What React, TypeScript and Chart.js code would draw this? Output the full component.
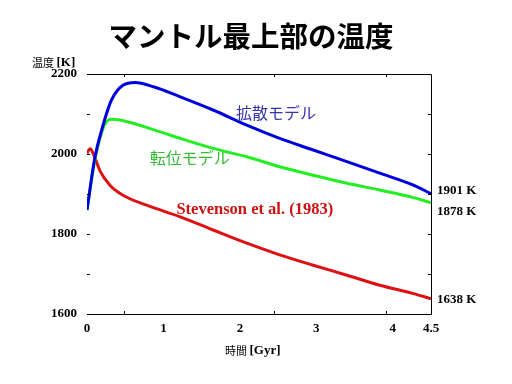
import { useEffect, useRef } from "react";
import { Chart, registerables } from "chart.js";

Chart.register(...registerables);

// ---- text ----
const TITLE = "マントル最上部の温度";
const Y_TITLE_JA = "温度";
const Y_TITLE_UNIT = "[K]";
const X_TITLE_JA = "時間";
const X_TITLE_UNIT = "[Gyr]";
const SERIES_NAMES = ["拡散モデル", "転位モデル", "Stevenson et al. (1983)"];

// ---- ticks ----
const X_TICKS = [0, 1, 2, 3, 4, 4.5];
const Y_LABELED = [1600, 1800, 2000, 2200];
const Y_MINOR = [1700, 1800, 1900, 2000, 2100];
const X_MINOR = [0.48, 2.45, 3.91];

// ---- data (time in Gyr, temperature in K) ----
const diffusionX = [0, 0.1, 0.21, 0.32, 0.47, 0.63, 0.87, 1.22, 1.65, 2.09, 2.52, 2.96, 3.4, 3.83, 4.27, 4.5];
const diffusionY = [1860, 1988, 2072, 2135, 2172, 2179, 2168, 2143, 2110, 2072, 2039, 2010, 1981, 1952, 1922, 1901];

const dislocationX = [0, 0.1, 0.17, 0.235, 0.32, 0.43, 0.95, 1.22, 1.65, 2.09, 2.52, 2.96, 3.4, 3.83, 4.27, 4.5];
const dislocationY = [1860, 1982, 2040, 2075, 2087, 2085, 2056, 2039, 2014, 1993, 1968, 1947, 1927, 1910, 1891, 1878];

const stevensonX = [0, 0.04, 0.09, 0.17, 0.3, 0.47, 0.78, 1.22, 1.65, 2.09, 2.52, 2.96, 3.4, 3.83, 4.27, 4.5];
const stevensonY = [2002, 2013, 1997, 1958, 1922, 1897, 1872, 1843, 1810, 1777, 1748, 1722, 1697, 1672, 1651, 1638];

const COLORS = ["#0000dd", "#22ee22", "#dd1111"];
const TEXT_COLORS = ["#3333aa", "#33bb33", "#cc1111"];

const SANS = '"Noto Sans CJK JP", "Noto Sans", sans-serif';
const SERIF = '"Liberation Serif", "DejaVu Serif", serif';

const toPoints = (xs: number[], ys: number[]) => xs.map((x, i) => ({ x, y: ys[i] }));

function drawParts(ctx: CanvasRenderingContext2D, parts: { text: string; font: string }[], x: number, y: number) {
  let cx = x;
  ctx.textBaseline = "middle";
  ctx.textAlign = "left";
  for (const p of parts) {
    ctx.font = p.font;
    ctx.fillText(p.text, cx, y);
    cx += ctx.measureText(p.text).width;
  }
}

const overlayPlugin = {
  id: "overlay",
  afterDraw(chart: any) {
    const ctx: CanvasRenderingContext2D = chart.ctx;
    const a = chart.chartArea;
    const xs = chart.scales.x;
    const ys = chart.scales.y;
    ctx.save();

    // frame: top, right, bottom (no left line)
    ctx.strokeStyle = "#000";
    ctx.lineWidth = 1;
    ctx.beginPath();
    ctx.moveTo(a.left, Math.round(a.top) + 0.5);
    ctx.lineTo(Math.round(a.right) + 0.5, Math.round(a.top) + 0.5);
    ctx.lineTo(Math.round(a.right) + 0.5, Math.round(a.bottom) + 0.5);
    ctx.lineTo(a.left, Math.round(a.bottom) + 0.5);
    ctx.stroke();

    // inward minor ticks
    ctx.beginPath();
    for (const v of Y_MINOR) {
      const py = Math.round(ys.getPixelForValue(v)) + 0.5;
      ctx.moveTo(a.left, py);
      ctx.lineTo(a.left + 3, py);
      ctx.moveTo(a.right, py);
      ctx.lineTo(a.right - 3, py);
    }
    for (const v of X_MINOR) {
      const px = Math.round(xs.getPixelForValue(v)) + 0.5;
      ctx.moveTo(px, a.top);
      ctx.lineTo(px, a.top + 3);
      ctx.moveTo(px, a.bottom);
      ctx.lineTo(px, a.bottom - 3);
    }
    ctx.stroke();

    // title
    ctx.fillStyle = "#000";
    ctx.font = `bold 28.5px ${SANS}`;
    ctx.textAlign = "center";
    ctx.textBaseline = "middle";
    ctx.fillText(TITLE, 251, 36);

    // axis titles
    drawParts(ctx, [
      { text: Y_TITLE_JA + " ", font: `11px ${SANS}` },
      { text: Y_TITLE_UNIT, font: `bold 13px ${SERIF}` },
    ], 32, 63);
    drawParts(ctx, [
      { text: X_TITLE_JA + " ", font: `11px ${SANS}` },
      { text: X_TITLE_UNIT, font: `bold 13px ${SERIF}` },
    ], 225, 351);

    // series annotations (anchored at data coordinates)
    const anchors = [
      { x: 1.95, y: 2102, font: `16px ${SANS}` },
      { x: 0.82, y: 1990, font: `16px ${SANS}` },
      { x: 1.17, y: 1860, font: `bold 16.5px ${SERIF}` },
    ];
    anchors.forEach((an, i) => {
      ctx.fillStyle = TEXT_COLORS[i];
      ctx.font = an.font;
      ctx.textAlign = "left";
      ctx.textBaseline = "middle";
      ctx.fillText(SERIES_NAMES[i], xs.getPixelForValue(an.x), ys.getPixelForValue(an.y));
    });

    // end-value labels at right
    const ends = [diffusionY, dislocationY, stevensonY].map((arr) => arr[arr.length - 1]);
    const shifts = [-3, 9, 1];
    ctx.fillStyle = "#000";
    ctx.font = `bold 13px ${SERIF}`;
    ctx.textAlign = "left";
    ctx.textBaseline = "middle";
    ends.forEach((v, i) => {
      ctx.fillText(`${v} K`, a.right + 6, ys.getPixelForValue(v) + shifts[i]);
    });

    ctx.restore();
  },
};

export default function App() {
  const ref = useRef<HTMLCanvasElement | null>(null);

  useEffect(() => {
    document.body.style.margin = "0";
    const canvas = ref.current;
    if (!canvas) return;
    const chart = new Chart(canvas, {
      type: "line",
      data: {
        datasets: [
          { label: SERIES_NAMES[0], data: toPoints(diffusionX, diffusionY), borderColor: COLORS[0] },
          { label: SERIES_NAMES[1], data: toPoints(dislocationX, dislocationY), borderColor: COLORS[1] },
          { label: SERIES_NAMES[2], data: toPoints(stevensonX, stevensonY), borderColor: COLORS[2] },
        ].map((d) => ({
          ...d,
          borderWidth: 3,
          pointRadius: 0,
          fill: false,
          cubicInterpolationMode: "monotone",
        })),
      },
      options: {
        animation: false,
        responsive: false,
        devicePixelRatio: 1,
        events: [],
        layout: { padding: { left: 0, right: 81, top: 74, bottom: 0 } },
        plugins: {
          legend: { display: false },
          tooltip: { enabled: false },
          title: { display: false },
        },
        scales: {
          x: {
            type: "linear",
            min: 0,
            max: 4.5,
            afterBuildTicks: (s: any) => {
              s.ticks = X_TICKS.map((v) => ({ value: v }));
            },
            afterFit: (s: any) => {
              s.height = 70;
            },
            grid: { display: false, drawTicks: false },
            border: { display: false },
            ticks: {
              color: "#000",
              padding: 7,
              maxRotation: 0,
              autoSkip: false,
              font: { family: SERIF, size: 13, weight: "bold" },
              callback: (v: any) => String(v),
            },
          },
          y: {
            type: "linear",
            min: 1600,
            max: 2200,
            afterBuildTicks: (s: any) => {
              s.ticks = Y_LABELED.map((v) => ({ value: v }));
            },
            afterFit: (s: any) => {
              s.width = 87;
            },
            grid: { display: false, drawTicks: false },
            border: { display: false },
            ticks: {
              color: "#000",
              padding: 10,
              font: { family: SERIF, size: 13, weight: "bold" },
              callback: (v: any) => String(v),
            },
          },
        },
      },
      plugins: [overlayPlugin],
    } as any);
    return () => chart.destroy();
  }, []);

  return (
    <div style={{ position: "absolute", left: 0, top: 0, width: 512, height: 384, background: "#fff" }}>
      <canvas ref={ref} width={512} height={384} />
    </div>
  );
}
